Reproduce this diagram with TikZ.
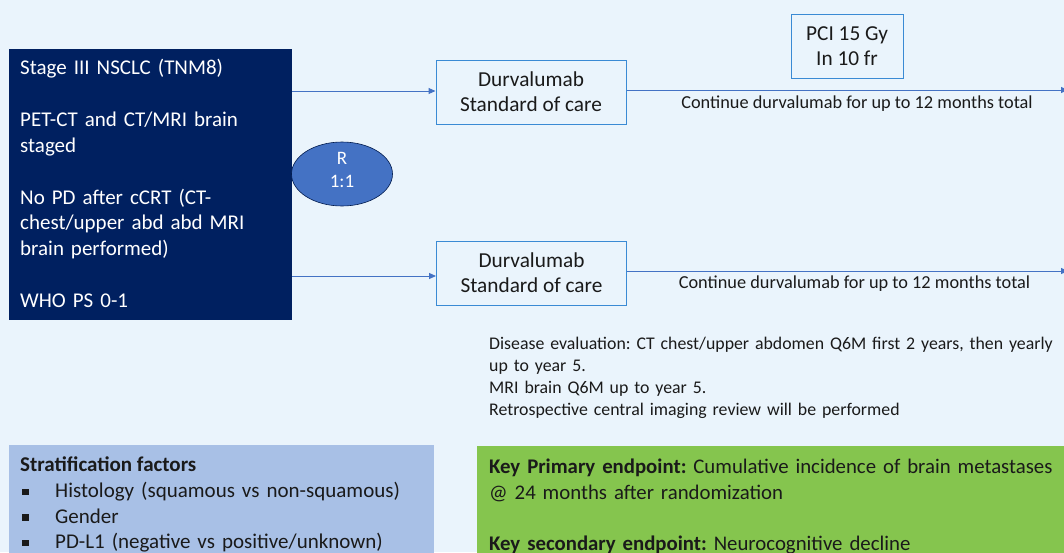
\documentclass[tikz,border=0pt]{standalone}
\usepackage{fontspec}
\setmainfont{Carlito}
\usetikzlibrary{arrows.meta,shapes.geometric}
\definecolor{bg}{HTML}{EAF4FC}
\definecolor{navy}{HTML}{002060}
\definecolor{midblue}{HTML}{4472C4}
\definecolor{boxblue}{HTML}{3A8AD4}
\definecolor{strat}{HTML}{A8C0E6}
\definecolor{green}{HTML}{85C54E}
\definecolor{txt}{HTML}{1A1A1A}
\tikzset{
  conn/.style={draw=midblue, line width=1pt, -{Triangle[length=7pt,width=6pt]}},
  armbox/.style={draw=boxblue, line width=1pt, fill=bg, minimum width=190pt, minimum height=64pt, align=center, font=\fontsize{21.3}{25}\selectfont, text=txt, inner sep=0pt},
  plain/.style={align=left, anchor=north west, inner sep=0pt, text=txt},
}
\newcommand{\sqbullet}{\makebox[33pt][l]{\rule[0.12em]{0.3em}{0.3em}}}
\begin{document}
\frenchspacing
\begin{tikzpicture}[x=1pt,y=-1pt]
\fill[bg] (0,0) rectangle (1064,552);
\useasboundingbox (0,0) rectangle (1064,552);
% left eligibility box
\node[fill=navy, minimum width=283pt, minimum height=271pt, inner sep=0pt, anchor=north west] (elig) at (9,49) {};
\node[plain, text=white, font=\fontsize{21}{25.9}\selectfont, text width=270pt] (eligtxt) at (20,59) {Stage III NSCLC (TNM8)\\[25.9pt]PET-CT and CT/MRI brain\\staged\\[25.9pt]No PD after cCRT (CT-\\chest/upper abd abd MRI\\brain performed)\\[25.9pt]WHO PS 0-1};
% randomisation ellipse
\node[ellipse, draw=navy!80!black, line width=0.6pt, fill=midblue, minimum width=101pt, minimum height=64pt, inner sep=0pt, text=white, align=center, font=\fontsize{19}{23}\selectfont] (rand) at (342,174) {};
\node[inner sep=0pt, text=white, align=center, font=\fontsize{19}{23}\selectfont] (randtxt) at (342,170) {R\\1:1};
% arm boxes
\node[armbox] (arm1) at (531,92) {Durvalumab\\Standard of care};
\node[armbox] (arm2) at (531.5,273) {Durvalumab\\Standard of care};
\coordinate (a1s) at (292,91);
\coordinate (a2s) at (292,276);
\draw[conn] (a1s) -- (arm1.west |- a1s);
\draw[conn] (a2s) -- (arm2.west |- a2s);
% continuation arrows
\coordinate (e1) at (1068,90);
\coordinate (e2) at (1068,271);
\draw[conn] (arm1.east |- e1) -- (e1);
\draw[conn] (arm2.east |- e2) -- (e2);
\node[inner sep=0pt, text=txt, font=\fontsize{18.3}{20}\selectfont] (cont1) at (857,103.5) {Continue durvalumab for up to 12 months total};
\node[inner sep=0pt, text=txt, font=\fontsize{18.3}{20}\selectfont] (cont2) at (854.5,283.5) {Continue durvalumab for up to 12 months total};
% PCI box
\node[draw=boxblue, line width=1pt, fill=bg, minimum width=112pt, minimum height=64pt, align=center, inner sep=0pt, text=txt, font=\fontsize{21.3}{25}\selectfont] (pci) at (847,46) {PCI 15 Gy\\In 10 fr};
% disease evaluation
\node[plain, font=\fontsize{17.8}{22}\selectfont, text width=580pt] (eval) at (489,337) {Disease evaluation: CT chest/upper abdomen Q6M first 2 years, then yearly\\up to year 5.\\MRI brain Q6M up to year 5.\\Retrospective central imaging review will be performed};
% stratification box
\node[fill=strat, minimum width=425pt, minimum height=120pt, inner sep=0pt, anchor=north west] (stratbox) at (9,445) {};
\node[plain, font=\fontsize{21}{25.5}\selectfont] (strathead) at (20,457) {\textbf{Stratification factors}};
\node[plain, font=\fontsize{21}{25.5}\selectfont, text width=410pt] (stratlist) at (22,482) {%
\sqbullet Histology (squamous vs non-squamous)\\
\sqbullet Gender\\
\sqbullet PD-L1 (negative vs positive/unknown)};
% endpoints box
\node[fill=green, minimum width=600pt, minimum height=120pt, inner sep=0pt, anchor=north west] (endbox) at (477,446) {};
\node[plain, font=\fontsize{20.8}{25.5}\selectfont, text width=590pt] (endtxt) at (489,459) {\textbf{Key Primary endpoint:} Cumulative incidence of brain metastases\\@ 24 months after randomization\\[26pt]\textbf{Key secondary endpoint:} Neurocognitive decline};
\end{tikzpicture}
\end{document}
